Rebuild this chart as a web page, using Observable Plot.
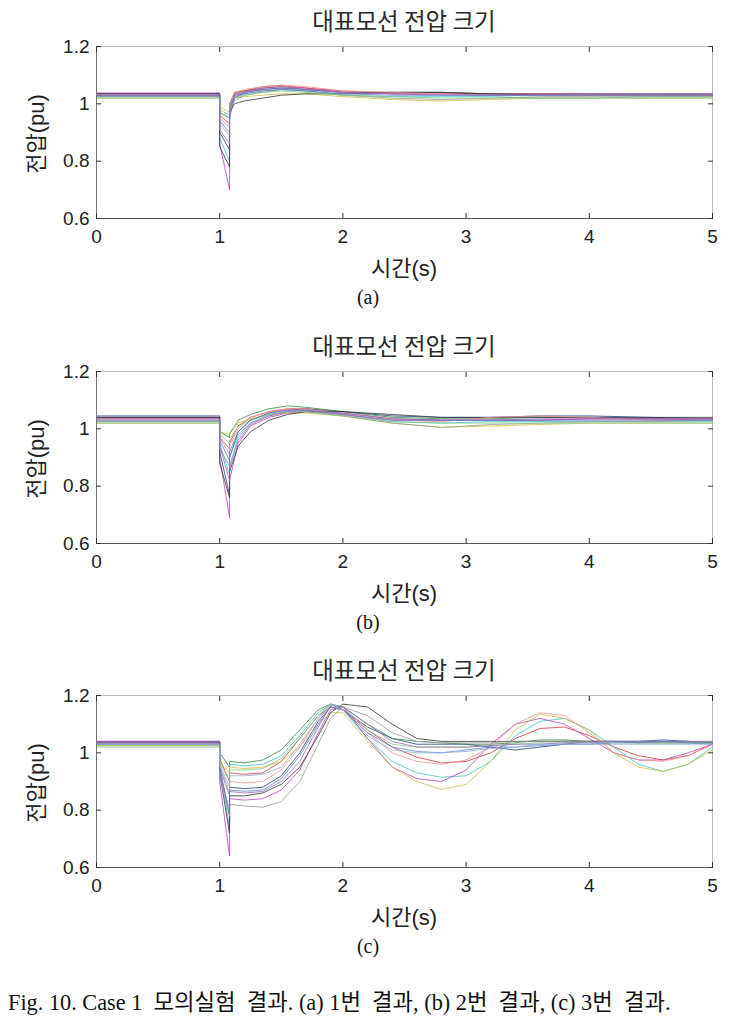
<!DOCTYPE html>
<html><head><meta charset="utf-8">
<script src="https://cdn.jsdelivr.net/npm/d3@7"></script>
<script src="https://cdn.jsdelivr.net/npm/@observablehq/plot@0.6"></script>
<style>
body{margin:0;background:#fff;}
#wrap{position:relative;width:736px;height:1033px;overflow:hidden;background:#fff;}
.panel{position:absolute;left:0;}
.t{position:absolute;white-space:nowrap;color:#222;line-height:1;}
.title{font-family:"Noto Sans CJK KR",sans-serif;font-size:23.5px;font-weight:400;color:#2a2a2a;transform:translate(-50%,-50%);}
.xl{font-family:"Liberation Sans","Noto Sans CJK KR",sans-serif;font-size:22px;transform:translate(-50%,-50%);}
.yl{font-family:"Liberation Sans","Noto Sans CJK KR",sans-serif;font-size:22px;transform:translate(-50%,-50%) rotate(-90deg);}
.sub{font-family:"Liberation Serif","DejaVu Serif",serif;font-size:20px;transform:translate(-50%,-50%);color:#111;}
.cap{font-family:"Liberation Serif","Noto Sans CJK KR",serif;font-size:22.3px;color:#111;line-height:26px;}
</style></head>
<body><div id="wrap"></div>
<script>
const panelTitle = "대표모선 전압 크기";
const xLabel = "시간(s)";
const yLabel = "전압(pu)";
const subLabels = ["(a)", "(b)", "(c)"];
const caption = "Fig. 10. Case 1  모의실험  결과. (a) 1번  결과, (b) 2번  결과, (c) 3번  결과.";
const xTicks = [0, 1, 2, 3, 4, 5];
const yTicks = [0.6, 0.8, 1.0, 1.2];
const yTickLabels = ["0.6", "0.8", "1", "1.2"];
const lineColors = ["#24408e", "#2e8b3e", "#d33b3b", "#3cc4c4", "#b845b8", "#c8c040", "#333333", "#f09090", "#999999", "#88c888", "#9a6cc8", "#5a82c8", "#8fb0d8"];

// Panel (a)
const timeA = [0, 1, 1, 1.08, 1.08, 1.12, 1.2, 1.35, 1.5, 1.7, 2.0, 2.4, 2.8, 3.2, 3.6, 4.0, 4.5, 5];
const voltA = [
  [1.035,1.035,0.90,0.84,0.98,1.03,1.04,1.05,1.055,1.05,1.04,1.04,1.04,1.035,1.035,1.035,1.035,1.035],
  [1.03,1.03,0.97,0.95,1.0,1.04,1.045,1.055,1.06,1.05,1.04,1.04,1.04,1.03,1.03,1.03,1.03,1.03],
  [1.03,1.03,0.96,0.93,0.99,1.035,1.045,1.06,1.065,1.055,1.045,1.035,1.035,1.035,1.035,1.035,1.03,1.03],
  [1.025,1.025,0.88,0.80,0.96,1.02,1.035,1.045,1.05,1.045,1.03,1.025,1.025,1.025,1.02,1.02,1.025,1.025],
  [1.038,1.038,0.86,0.70,0.95,1.02,1.04,1.055,1.06,1.055,1.04,1.035,1.035,1.03,1.03,1.03,1.03,1.035],
  [1.02,1.02,0.99,0.97,1.0,1.02,1.025,1.03,1.035,1.035,1.025,1.015,1.01,1.015,1.02,1.02,1.02,1.02],
  [1.035,1.035,0.85,0.78,0.97,1.0,1.01,1.02,1.03,1.035,1.035,1.04,1.04,1.035,1.03,1.03,1.03,1.03],
  [1.03,1.03,0.95,0.92,0.99,1.04,1.05,1.06,1.065,1.06,1.045,1.04,1.035,1.03,1.03,1.03,1.03,1.03],
  [1.025,1.025,0.93,0.89,0.97,1.01,1.03,1.04,1.05,1.045,1.03,1.02,1.015,1.02,1.025,1.025,1.025,1.025],
  [1.02,1.02,0.98,0.96,0.99,1.02,1.03,1.04,1.045,1.04,1.03,1.025,1.02,1.02,1.02,1.02,1.02,1.02],
  [1.032,1.032,0.91,0.86,0.985,1.03,1.04,1.05,1.055,1.05,1.04,1.035,1.03,1.03,1.03,1.035,1.035,1.035],
  [1.028,1.028,0.94,0.90,0.975,1.025,1.035,1.045,1.05,1.045,1.035,1.03,1.03,1.03,1.03,1.03,1.03,1.03]
];

// Panel (b)
const timeB = [0, 1, 1, 1.08, 1.08, 1.15, 1.25, 1.4, 1.55, 1.7, 2.0, 2.4, 2.8, 3.2, 3.6, 4.0, 4.5, 5];
const voltB = [
  [1.045,1.045,0.92,0.77,0.90,0.99,1.03,1.055,1.065,1.07,1.06,1.045,1.04,1.04,1.045,1.045,1.04,1.035],
  [1.04,1.04,0.99,0.97,0.98,1.03,1.05,1.07,1.08,1.075,1.06,1.04,1.035,1.035,1.04,1.04,1.035,1.035],
  [1.035,1.035,0.97,0.93,0.95,1.01,1.04,1.06,1.07,1.07,1.055,1.035,1.03,1.03,1.03,1.035,1.035,1.03],
  [1.025,1.025,0.95,0.84,0.87,0.97,1.02,1.045,1.06,1.065,1.05,1.025,1.02,1.025,1.025,1.025,1.025,1.025],
  [1.04,1.04,0.90,0.69,0.82,0.95,1.01,1.04,1.055,1.06,1.05,1.03,1.03,1.03,1.03,1.035,1.035,1.035],
  [1.02,1.02,0.99,0.98,0.99,1.02,1.035,1.05,1.055,1.055,1.045,1.02,1.005,1.01,1.015,1.02,1.02,1.02],
  [1.04,1.04,0.88,0.76,0.85,0.94,0.99,1.03,1.05,1.06,1.06,1.05,1.04,1.04,1.04,1.04,1.04,1.04],
  [1.03,1.03,0.97,0.91,0.94,1.0,1.04,1.06,1.07,1.07,1.05,1.03,1.025,1.04,1.045,1.04,1.03,1.03],
  [1.025,1.025,0.93,0.87,0.90,0.98,1.02,1.05,1.06,1.06,1.045,1.02,1.005,1.015,1.02,1.025,1.025,1.03],
  [1.02,1.02,0.98,0.95,0.96,1.01,1.03,1.05,1.06,1.06,1.045,1.025,1.02,1.02,1.02,1.02,1.02,1.02],
  [1.035,1.035,0.94,0.82,0.86,0.96,1.015,1.045,1.06,1.065,1.055,1.035,1.03,1.03,1.035,1.035,1.035,1.035],
  [1.03,1.03,0.96,0.89,0.92,0.99,1.03,1.055,1.065,1.065,1.05,1.03,1.03,1.03,1.03,1.03,1.03,1.03]
];

// Panel (c)
const timeC = [0, 1, 1, 1.08, 1.08, 1.2, 1.35, 1.5, 1.65, 1.8, 1.9, 2.0, 2.2, 2.4, 2.6, 2.8, 3.0, 3.2, 3.4, 3.6, 3.8, 4.0, 4.2, 4.4, 4.6, 4.8, 5];
const voltC = [
  [1.04,1.04,0.95,0.78,0.88,0.875,0.88,0.92,1.0,1.11,1.16,1.15,1.09,1.05,1.03,1.03,1.03,1.02,1.01,1.02,1.03,1.04,1.04,1.04,1.045,1.04,1.035],
  [1.035,1.035,1.0,0.95,0.97,0.965,0.975,1.01,1.08,1.15,1.17,1.16,1.1,1.05,1.04,1.035,1.03,1.03,1.035,1.045,1.045,1.04,1.04,1.04,1.04,1.04,1.035],
  [1.03,1.03,0.98,0.90,0.93,0.925,0.93,0.97,1.05,1.13,1.16,1.15,1.08,1.02,0.985,0.965,0.97,1.0,1.05,1.085,1.09,1.06,1.02,0.99,0.975,0.99,1.03],
  [1.025,1.025,0.95,0.74,0.96,0.955,0.96,0.99,1.06,1.14,1.17,1.15,1.05,0.97,0.93,0.915,0.92,0.97,1.06,1.11,1.12,1.08,1.02,0.96,0.935,0.96,1.02],
  [1.04,1.04,0.90,0.64,0.84,0.835,0.84,0.87,0.94,1.07,1.15,1.16,1.05,0.95,0.91,0.90,0.94,1.03,1.1,1.12,1.1,1.05,1.0,0.975,0.975,1.0,1.03],
  [1.025,1.025,0.97,0.93,0.95,0.945,0.95,0.97,1.02,1.10,1.14,1.14,1.04,0.95,0.9,0.872,0.89,0.97,1.08,1.135,1.12,1.08,1.0,0.95,0.935,0.96,1.01],
  [1.035,1.035,0.93,0.72,0.85,0.85,0.86,0.89,0.95,1.06,1.14,1.17,1.16,1.1,1.05,1.04,1.04,1.04,1.04,1.04,1.04,1.04,1.04,1.035,1.035,1.035,1.035],
  [1.03,1.03,0.96,0.86,0.9,0.895,0.9,0.94,1.02,1.12,1.16,1.15,1.07,1.0,0.97,0.96,0.975,1.02,1.1,1.14,1.13,1.07,1.0,0.975,0.97,0.99,1.03],
  [1.03,1.03,0.92,0.78,0.82,0.815,0.81,0.83,0.9,1.03,1.12,1.16,1.13,1.07,1.04,1.035,1.035,1.035,1.04,1.04,1.04,1.04,1.04,1.04,1.04,1.04,1.04],
  [1.02,1.02,0.97,0.90,0.94,0.94,0.945,0.98,1.05,1.13,1.17,1.16,1.08,1.03,1.02,1.02,1.02,1.025,1.03,1.035,1.035,1.035,1.035,1.035,1.035,1.035,1.035],
  [1.035,1.035,0.93,0.80,0.865,0.86,0.865,0.9,0.97,1.09,1.165,1.16,1.1,1.04,1.02,1.02,1.02,1.025,1.03,1.03,1.035,1.035,1.04,1.04,1.04,1.04,1.04],
  [1.03,1.03,0.95,0.85,0.87,0.866,0.87,0.91,0.99,1.1,1.16,1.15,1.07,1.02,1.005,1.0,1.01,1.02,1.02,1.025,1.03,1.03,1.035,1.035,1.04,1.035,1.03],
  [1.03,1.03,0.96,0.88,0.92,0.92,0.925,0.95,1.03,1.12,1.17,1.15,1.06,1.01,1.0,1.0,1.005,1.015,1.02,1.03,1.03,1.03,1.03,1.03,1.03,1.03,1.03]
];

const panels = [
  {times: timeA, volts: voltA, frameTop: 46},
  {times: timeB, volts: voltB, frameTop: 371},
  {times: timeC, volts: voltC, frameTop: 695}
];

const wrap = document.getElementById("wrap");
function addText(cls, txt, x, y) {
  const d = document.createElement("div");
  d.className = "t " + cls;
  d.textContent = txt;
  d.style.left = x + "px";
  d.style.top = y + "px";
  wrap.appendChild(d);
}

const mT = 16, frameH = 172, mB = 34, mL = 96, mR = 24;
panels.forEach((p, k) => {
  const data = [];
  p.volts.forEach((vals, i) => vals.forEach((v, j) => data.push({t: p.times[j], v, s: i})));
  const svg = Plot.plot({
    width: 736, height: mT + frameH + mB,
    marginLeft: mL, marginRight: mR, marginTop: mT, marginBottom: mB,
    style: {fontFamily: "'Liberation Sans', Arial, sans-serif", fontSize: "19px", color: "#222", background: "transparent"},
    x: {domain: [0, 5]},
    y: {domain: [0.6, 1.2]},
    color: {domain: p.volts.map((_, i) => i), range: lineColors},
    marks: [
      Plot.frame({stroke: "#b8b8b8", strokeWidth: 1}),
      Plot.line(data, {x: "t", y: "v", z: "s", stroke: "s", strokeWidth: 0.8}),
      Plot.ruleY([0.6], {stroke: "#555"}),
      Plot.ruleX([0], {stroke: "#777"}),
      Plot.axisX(xTicks, {anchor: "bottom", tickSize: -5, tickPadding: 16, tickFormat: d => String(d), label: null, stroke: "#333", fill: "#222"}),
      Plot.axisX(xTicks, {anchor: "top", tickSize: -5, tickFormat: () => "", label: null, stroke: "#333"}),
      Plot.axisY(yTicks, {anchor: "left", tickSize: -5, tickPadding: 12, tickFormat: d => yTickLabels[yTicks.indexOf(d)], label: null, stroke: "#333", fill: "#222"}),
      Plot.axisY(yTicks, {anchor: "right", tickSize: -5, tickFormat: () => "", label: null, stroke: "#333"})
    ]
  });
  svg.classList.add("panel");
  svg.style.top = (p.frameTop - mT) + "px";
  wrap.appendChild(svg);
  const fb = p.frameTop + frameH;
  addText("title", panelTitle, 404, p.frameTop - 25);
  addText("yl", yLabel, 37, p.frameTop + 88);
  addText("xl", xLabel, 404, fb + 51);
  addText("sub", subLabels[k], 368, fb + 79);
});
const c = document.createElement("div");
c.className = "t cap";
c.textContent = caption;
c.style.left = "8px";
c.style.top = "990px";
c.style.whiteSpace = "pre";
wrap.appendChild(c);
</script>
</body></html>
